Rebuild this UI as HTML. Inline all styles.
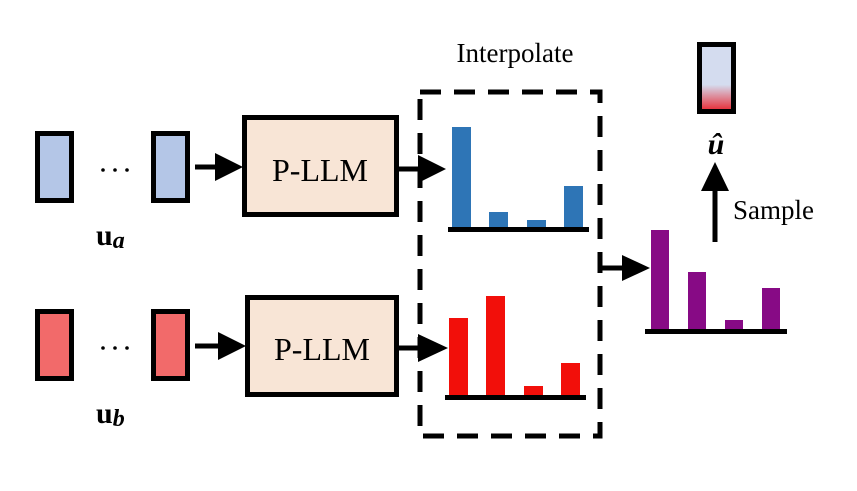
<!DOCTYPE html>
<html><head><meta charset="utf-8"><style>html,body{margin:0;padding:0;background:#fff;}svg{display:block}</style></head>
<body>
<svg width="857" height="491" viewBox="0 0 857 491" xmlns="http://www.w3.org/2000/svg">
<defs>
<linearGradient id="g" x1="0" y1="0" x2="0" y2="1">
<stop offset="0" stop-color="#d4dcef"/><stop offset="0.6" stop-color="#d4dcef"/><stop offset="1" stop-color="#e8252e"/>
</linearGradient>
</defs>
<g stroke="#000" stroke-width="5">
<rect x="37.5" y="133.5" width="34" height="67" fill="#b4c6e7"/>
<rect x="153.5" y="133.5" width="34" height="67" fill="#b4c6e7"/>
<rect x="37.5" y="311.5" width="34" height="67" fill="#f26a6a"/>
<rect x="153.5" y="311.5" width="34" height="67" fill="#f26a6a"/>
<rect x="244.5" y="117.5" width="152" height="97" fill="#f8e5d6"/>
<rect x="247.5" y="297.5" width="149" height="97" fill="#f8e5d6"/>
<rect x="699.5" y="44.5" width="34" height="67" fill="url(#g)"/>
</g>
<g fill="#000">
<circle cx="103" cy="170" r="1.8"/><circle cx="115" cy="170" r="1.8"/><circle cx="127" cy="170" r="1.8"/>
<circle cx="103" cy="348" r="1.8"/><circle cx="115" cy="348" r="1.8"/><circle cx="127" cy="348" r="1.8"/>
</g>
<g font-family="Liberation Serif, serif" fill="#000">
<text x="96" y="245" font-size="30" font-weight="bold">u<tspan font-style="italic" font-size="24" dy="3">a</tspan></text>
<text x="96" y="423" font-size="30" font-weight="bold">u<tspan font-style="italic" font-size="24" dy="3">b</tspan></text>
<text x="320" y="181" font-size="32" text-anchor="middle">P-LLM</text>
<text x="322" y="360" font-size="32" text-anchor="middle">P-LLM</text>
<text x="515" y="62" font-size="27" text-anchor="middle">Interpolate</text>
<text x="733" y="219" font-size="27">Sample</text>
<text x="716" y="154" font-size="30" font-weight="bold" font-style="italic" text-anchor="middle">û</text>
</g>
<g stroke="#000" stroke-width="5">
<line x1="195" y1="167" x2="218" y2="167"/>
<line x1="195" y1="346" x2="220" y2="346"/>
<line x1="398" y1="169" x2="420" y2="169"/>
<line x1="398" y1="348" x2="420" y2="348"/>
<line x1="602" y1="268" x2="625" y2="268"/>
<line x1="715" y1="242" x2="715" y2="188"/>
</g>
<g fill="#000">
<polygon points="215,153 243,167 215,181"/>
<polygon points="218,332 246,346 218,360"/>
<polygon points="418,155 446,169 418,183"/>
<polygon points="418,334 448,348 418,362"/>
<polygon points="622,255 650,268 622,281"/>
<polygon points="701,191 715,162 729,191"/>
</g>
<rect x="420" y="92" width="180" height="344" fill="none" stroke="#000" stroke-width="5" stroke-dasharray="21,13"/>
<g fill="#2e75b6">
<rect x="452" y="127" width="19" height="101"/>
<rect x="489" y="212" width="19" height="16"/>
<rect x="527" y="220" width="19" height="8"/>
<rect x="564" y="186" width="19" height="42"/>
</g>
<rect x="448" y="227" width="141" height="5"/>
<g fill="#f20f0a">
<rect x="449" y="318" width="19" height="78"/>
<rect x="486" y="296" width="19" height="100"/>
<rect x="524" y="386" width="19" height="10"/>
<rect x="561" y="363" width="19" height="33"/>
</g>
<rect x="445" y="395" width="141" height="5"/>
<g fill="#870a85">
<rect x="651" y="230" width="18" height="99"/>
<rect x="688" y="272" width="18" height="57"/>
<rect x="725" y="320" width="18" height="9"/>
<rect x="762" y="288" width="18" height="41"/>
</g>
<rect x="645" y="329" width="142" height="5"/>
</svg>
</body></html>
